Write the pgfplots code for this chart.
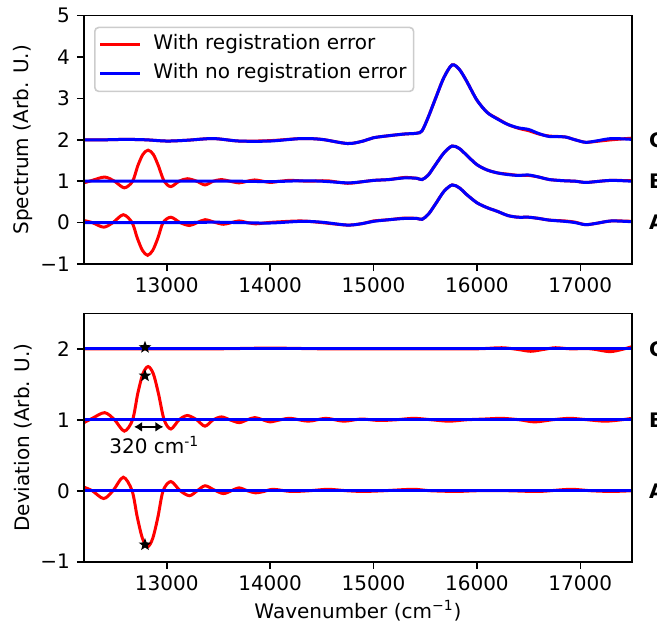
\documentclass[border=0pt]{standalone}
\usepackage{fontspec}
\setmainfont{DejaVu Sans}
\usepackage{pgfplots}
\pgfplotsset{compat=1.18}
\usetikzlibrary{arrows.meta}

% filled five-pointed star
\pgfdeclareplotmark{fstar}{%
  \pgfpathmoveto{\pgfpointpolar{90}{\pgfplotmarksize}}%
  \pgfpathlineto{\pgfpointpolar{126}{0.42\pgfplotmarksize}}%
  \pgfpathlineto{\pgfpointpolar{162}{\pgfplotmarksize}}%
  \pgfpathlineto{\pgfpointpolar{198}{0.42\pgfplotmarksize}}%
  \pgfpathlineto{\pgfpointpolar{234}{\pgfplotmarksize}}%
  \pgfpathlineto{\pgfpointpolar{270}{0.42\pgfplotmarksize}}%
  \pgfpathlineto{\pgfpointpolar{306}{\pgfplotmarksize}}%
  \pgfpathlineto{\pgfpointpolar{342}{0.42\pgfplotmarksize}}%
  \pgfpathlineto{\pgfpointpolar{18}{\pgfplotmarksize}}%
  \pgfpathlineto{\pgfpointpolar{54}{0.42\pgfplotmarksize}}%
  \pgfpathclose\pgfusepathqfill}

\tikzset{lbl/.style={anchor=west, inner sep=0pt, xshift=8.35pt, font=\bfseries}}

\pgfplotsset{
  panel/.style={
    scale only axis, width=274pt, height=124.2pt,
    xmin=12200, xmax=17500,
    xtick={13000,14000,15000,16000,17000},
    xticklabels={13000,14000,15000,16000,17000},
    scaled x ticks=false,
    tick align=outside, tick pos=left,
    major tick length=3.5pt,
    every tick/.style={black, line width=0.8pt},
    axis line style={line width=0.8pt},
    axis on top, clip mode=individual,
    every axis y label/.style={at={(axis description cs:-0.1108,0.5)}, rotate=90, anchor=center},
  },
  red line/.style={red, line width=1.5pt, smooth},
  blue line/.style={blue, line width=1.5pt, smooth},
}

\begin{document}
\begin{tikzpicture}
\path[use as bounding box] (0,0) rectangle (328.5pt,311pt);

% ---------------- top: spectra
\begin{axis}[panel, at={(42pt,179pt)}, anchor=south west,
  ymin=-1, ymax=5, ytick={-1,0,1,2,3,4,5},
  yticklabels={−1,0,1,2,3,4,5},
  ylabel={Spectrum (Arb. U.)},
  legend cell align=left,
  legend image code/.code={\draw[#1] (0pt,0pt) -- (20pt,0pt);},
  legend style={at={(axis description cs:0,1)}, anchor=north west,
    xshift=5pt, yshift=-5.5pt, draw=black!20, line width=0.8pt,
    fill=white, fill opacity=0.8, text opacity=1, draw opacity=1,
    rounded corners=2pt, inner xsep=2pt, inner ysep=1.5pt,
    row sep=0pt, column sep=4.3pt,
    nodes={inner xsep=1.5pt, inner ysep=2.4pt, text height=7.3pt, text depth=2.4pt}},
]
% A
\addplot[red line] coordinates {
(12200,0.05)(12280,0.0)(12390,-0.11)(12480,0.0)(12580,0.19)(12665,0.0)
(12715,-0.37)(12765,-0.67)(12815,-0.79)(12865,-0.67)(12915,-0.37)(12965,0.0)
(13040,0.13)(13130,0.0)(13220,-0.07)(13295,0.0)(13371,0.07)(13460,0.01)
(13548,-0.04)(13625,0.0)(13700,0.04)(13780,0.0)(13860,-0.03)(13940,-0.01)
(14030,0.01)(14300,0.04)(14500,0.0)(14750,-0.06)(14900,-0.02)(15000,0.04)
(15150,0.07)(15300,0.11)(15420,0.10)(15470,0.08)(15530,0.20)(15600,0.45)
(15680,0.75)(15760,0.91)(15830,0.84)(15900,0.68)(16000,0.48)(16100,0.36)
(16200,0.27)(16300,0.17)(16400,0.13)(16500,0.13)(16600,0.10)(16700,0.06)
(16850,0.04)(16950,0.01)(17050,-0.05)(17150,-0.02)(17300,0.04)(17500,0.03)
};
\addlegendentry{With registration error}
\addplot[blue line] coordinates {
(12200,0.00)(12400,0.00)(12600,0.00)(12800,0.00)(13000,0.00)(13200,0.00)
(13450,0.01)(13700,0.00)(14000,-0.01)(14300,0.03)(14500,0.01)(14750,-0.06)
(14900,-0.02)(15000,0.03)(15150,0.07)(15300,0.10)(15420,0.10)(15470,0.08)
(15530,0.20)(15600,0.45)(15680,0.75)(15760,0.91)(15830,0.84)(15900,0.68)
(16000,0.48)(16100,0.36)(16200,0.27)(16300,0.17)(16400,0.13)(16500,0.13)
(16600,0.10)(16700,0.06)(16850,0.03)(16950,0.00)(17050,-0.05)(17150,-0.02)
(17300,0.04)(17500,0.02)
};
\addlegendentry{With no registration error}
% B
\addplot[red line, forget plot] coordinates {
(12200,0.96)(12280,1.02)(12400,1.10)(12495,1.0)(12590,0.84)(12670,1.0)
(12720,1.37)(12770,1.65)(12820,1.75)(12870,1.65)(12920,1.37)(12975,1.0)
(13040,0.87)(13120,1.0)(13200,1.06)(13290,1.0)(13370,0.91)(13450,1.0)
(13530,1.04)(13610,1.0)(13700,0.96)(13780,1.0)(13850,1.03)(13930,1.0)
(14000,0.97)(14100,1.0)(14200,1.02)(14370,1.0)(14550,1.01)(14750,0.95)
(14900,0.99)(15000,1.02)(15150,1.04)(15300,1.09)(15420,1.07)(15470,1.04)
(15530,1.15)(15600,1.40)(15680,1.68)(15760,1.85)(15830,1.79)(15900,1.63)
(16000,1.40)(16100,1.27)(16200,1.20)(16300,1.17)(16400,1.14)(16500,1.14)
(16600,1.10)(16700,1.04)(16850,1.01)(16950,1.00)(17050,0.97)(17150,0.99)
(17300,1.02)(17500,1.01)
};
\addplot[blue line, forget plot] coordinates {
(12200,1.00)(12400,1.00)(12600,1.00)(12800,1.00)(13000,1.00)(13200,1.00)
(13450,1.00)(13700,1.00)(14000,0.99)(14300,1.01)(14500,1.00)(14750,0.96)
(14900,0.99)(15000,1.02)(15150,1.04)(15300,1.08)(15420,1.07)(15470,1.04)
(15530,1.15)(15600,1.40)(15680,1.68)(15760,1.85)(15830,1.79)(15900,1.63)
(16000,1.40)(16100,1.27)(16200,1.20)(16300,1.16)(16400,1.14)(16500,1.15)
(16600,1.10)(16700,1.04)(16850,1.01)(16950,1.00)(17050,0.97)(17150,0.99)
(17300,1.02)(17500,1.00)
};
% C
\addplot[red line, forget plot] coordinates {
(12200,2.00)(12400,2.00)(12600,2.01)(12800,2.00)(13000,1.97)(13200,1.99)
(13450,2.03)(13700,1.97)(14000,1.98)(14300,2.03)(14500,2.01)(14750,1.91)
(14900,1.97)(15000,2.05)(15150,2.10)(15300,2.14)(15420,2.16)(15470,2.22)
(15530,2.55)(15600,3.00)(15680,3.50)(15760,3.81)(15830,3.70)(15900,3.42)
(16000,2.96)(16100,2.66)(16200,2.51)(16300,2.37)(16400,2.28)(16500,2.22)
(16600,2.14)(16700,2.09)(16850,2.07)(16950,2.00)(17050,1.94)(17150,1.96)
(17300,2.00)(17500,2.04)
};
\addplot[blue line, forget plot] coordinates {
(12200,2.00)(12400,2.00)(12600,2.01)(12800,2.00)(13000,1.97)(13200,1.99)
(13450,2.03)(13700,1.97)(14000,1.97)(14300,2.03)(14500,2.01)(14750,1.91)
(14900,1.97)(15000,2.05)(15150,2.10)(15300,2.14)(15420,2.16)(15470,2.22)
(15530,2.55)(15600,3.00)(15680,3.50)(15760,3.81)(15830,3.70)(15900,3.42)
(16000,2.96)(16100,2.66)(16200,2.50)(16300,2.37)(16400,2.29)(16500,2.25)
(16600,2.15)(16700,2.08)(16850,2.07)(16950,2.00)(17050,1.94)(17150,1.97)
(17300,2.03)(17500,2.01)
};
\node[lbl] at (axis cs:17500,2) {C};
\node[lbl] at (axis cs:17500,1) {B};
\node[lbl] at (axis cs:17500,0) {A};
\end{axis}

% ---------------- bottom: deviations
\begin{axis}[panel, at={(42pt,30.15pt)}, anchor=south west,
  ymin=-1, ymax=2.5, ytick={-1,0,1,2},
  yticklabels={−1,0,1,2},
  ylabel={Deviation (Arb. U.)},
  xlabel={Wavenumber (cm\textsuperscript{−1})},
  every axis x label/.style={at={(axis description cs:0.5,-0.2267)}, anchor=base},
]
\addplot[red line] coordinates {
(12200,0.05)(12280,0.0)(12390,-0.11)(12480,0.0)(12580,0.19)(12665,0.0)
(12715,-0.37)(12765,-0.67)(12815,-0.79)(12865,-0.67)(12915,-0.37)(12965,0.0)
(13040,0.13)(13130,0.0)(13220,-0.07)(13295,0.0)(13371,0.07)(13460,0.01)
(13548,-0.04)(13625,0.0)(13700,0.04)(13780,0.0)(13860,-0.03)(13940,-0.01)
(14030,0.02)(14200,-0.01)(14380,0.0)(14560,0.02)(14740,0.0)(14900,-0.01)
(15100,0.0)(15380,0.02)(15550,0.0)(15800,-0.01)(16000,0.0)(16300,0.0)
(16600,-0.01)(16900,0.02)(17100,0.0)(17300,-0.01)(17500,0.0)
};
\addplot[red line] coordinates {
(12200,0.96)(12280,1.02)(12400,1.10)(12495,1.0)(12590,0.84)(12670,1.0)
(12720,1.37)(12770,1.65)(12820,1.75)(12870,1.65)(12920,1.37)(12975,1.0)
(13040,0.87)(13120,1.0)(13200,1.06)(13290,1.0)(13370,0.91)(13450,1.0)
(13530,1.04)(13610,1.0)(13700,0.96)(13780,1.0)(13850,1.03)(13930,1.0)
(14000,0.97)(14100,1.0)(14200,1.02)(14370,0.98)(14540,1.02)(14710,0.98)
(14880,1.01)(15050,0.99)(15220,1.0)(15390,1.02)(15560,1.0)(15730,0.98)
(15900,1.0)(16070,1.01)(16240,1.02)(16410,1.0)(16560,0.97)(16730,1.0)
(16900,1.02)(17070,1.0)(17240,0.98)(17400,1.0)(17500,1.02)
};
\addplot[red line] coordinates {
(12200,2.0)(12800,2.0)(13500,2.0)(14000,2.01)(14500,2.0)(15000,2.0)
(15500,2.0)(16000,2.0)(16240,2.015)(16400,1.99)(16520,1.965)(16640,1.99)
(16760,2.015)(16900,2.0)(17100,2.0)(17280,1.96)(17400,1.99)(17500,2.03)
};
\addplot[blue, line width=1.5pt] coordinates {(12200,0)(17500,0)};
\addplot[blue, line width=1.5pt] coordinates {(12200,1)(17500,1)};
\addplot[blue, line width=1.5pt] coordinates {(12200,2)(17500,2)};
\addplot[only marks, mark=fstar, mark size=3.3pt, black] coordinates {
(12790,2.02)(12790,1.62)(12790,-0.76)
};
\draw[{Latex[length=4pt,width=5pt]}-{Latex[length=4pt,width=5pt]}, line width=0.8pt]
  (axis cs:12684,0.90) -- (axis cs:12968,0.90);
\node[anchor=base, inner sep=0pt] at (axis cs:12880,0.52) {320 cm\textsuperscript{-1}};
\node[lbl] at (axis cs:17500,2) {C};
\node[lbl] at (axis cs:17500,1) {B};
\node[lbl] at (axis cs:17500,0) {A};
\end{axis}
\end{tikzpicture}
\end{document}
